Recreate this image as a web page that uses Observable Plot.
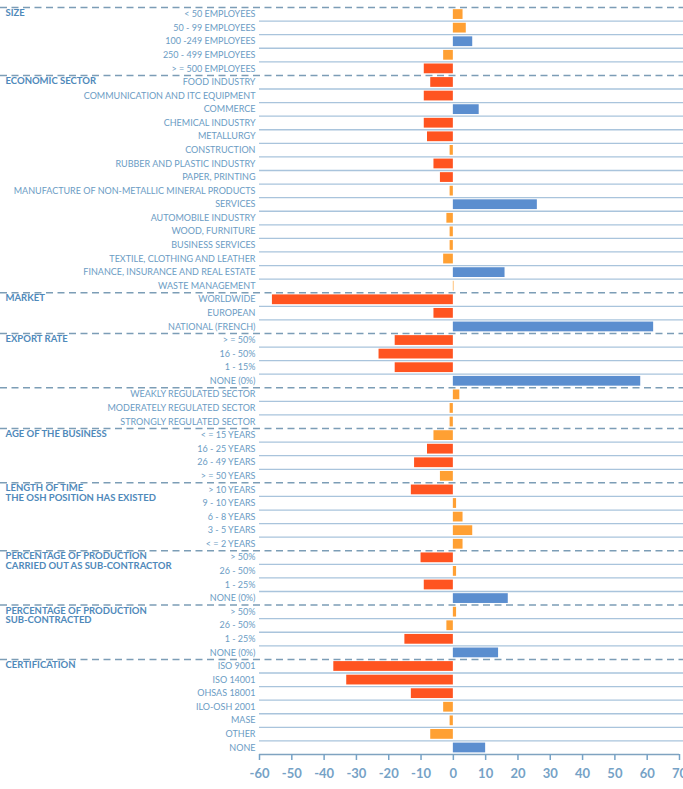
<!DOCTYPE html>
<html>
<head>
<meta charset="utf-8">
<script src="https://cdn.jsdelivr.net/npm/d3@7"></script>
<script src="https://cdn.jsdelivr.net/npm/@observablehq/plot@0.6"></script>
<style>
  html, body { margin: 0; padding: 0; background: #fff; }
  svg { display: block; }
</style>
</head>
<body>
<div id="chart"></div>
<script>
// ---- data ----
const groupNames = [
  "SIZE",
  "ECONOMIC SECTOR",
  "MARKET",
  "EXPORT RATE",
  "",
  "AGE OF THE BUSINESS",
  "LENGTH OF TIME\nTHE OSH POSITION HAS EXISTED",
  "PERCENTAGE OF PRODUCTION\nCARRIED OUT AS SUB-CONTRACTOR",
  "PERCENTAGE OF PRODUCTION\nSUB-CONTRACTED",
  "CERTIFICATION"
];
const groupCounts = [5, 16, 3, 4, 3, 4, 5, 4, 4, 7];

const labels = [
  "< 50 EMPLOYEES", "50 - 99 EMPLOYEES", "100 -249 EMPLOYEES", "250 - 499 EMPLOYEES", "> = 500 EMPLOYEES",
  "FOOD INDUSTRY", "COMMUNICATION AND ITC EQUIPMENT", "COMMERCE", "CHEMICAL INDUSTRY", "METALLURGY",
  "CONSTRUCTION", "RUBBER AND PLASTIC INDUSTRY", "PAPER, PRINTING", "MANUFACTURE OF NON-METALLIC MINERAL PRODUCTS",
  "SERVICES", "AUTOMOBILE INDUSTRY", "WOOD, FURNITURE", "BUSINESS SERVICES", "TEXTILE, CLOTHING AND LEATHER",
  "FINANCE, INSURANCE AND REAL ESTATE", "WASTE MANAGEMENT",
  "WORLDWIDE", "EUROPEAN", "NATIONAL (FRENCH)",
  "> = 50%", "16 - 50%", "1 - 15%", "NONE (0%)",
  "WEAKLY REGULATED SECTOR", "MODERATELY REGULATED SECTOR", "STRONGLY REGULATED SECTOR",
  "< = 15 YEARS", "16 - 25 YEARS", "26 - 49 YEARS", "> = 50 YEARS",
  "> 10 YEARS", "9 - 10 YEARS", "6 - 8 YEARS", "3 - 5 YEARS", "< = 2 YEARS",
  "> 50%", "26 - 50%", "1 - 25%", "NONE (0%)",
  "> 50%", "26 - 50%", "1 - 25%", "NONE (0%)",
  "ISO 9001", "ISO 14001", "OHSAS 18001", "ILO-OSH 2001", "MASE", "OTHER", "NONE"
];

const values = [
  3, 4, 6, -3, -9,
  -7, -9, 8, -9, -8, -1, -6, -4, -1, 26, -2, -1, -1, -3, 16, 0.2,
  -56, -6, 62,
  -18, -23, -18, 58,
  2, -1, -1,
  -6, -8, -12, -4,
  -13, 1, 3, 6, 3,
  -10, 1, -9, 17,
  1, -2, -15, 14,
  -37, -33, -13, -3, -1, -7, 10
];

// n = significant negative, s = small / not significant, p = significant positive
const tones = [
  "s", "s", "p", "s", "n",
  "n", "n", "p", "n", "n", "s", "n", "n", "s", "p", "s", "s", "s", "s", "p", "s",
  "n", "n", "p",
  "n", "n", "n", "p",
  "s", "s", "s",
  "s", "n", "n", "s",
  "n", "s", "s", "s", "s",
  "n", "s", "n", "p",
  "s", "s", "n", "p",
  "n", "n", "n", "s", "s", "s", "p"
];

const xTicks = [-60, -50, -40, -30, -20, -10, 0, 10, 20, 30, 40, 50, 60, 70];

// ---- derived tables ----
const rows = labels.map((label, i) => ({i, label, value: values[i], tone: tones[i]}));
const groups = [];
{
  let s = 0;
  groupNames.forEach((name, k) => { groups.push({name, start: s}); s += groupCounts[k]; });
}
const nRows = labels.length;
const starts = new Set(groups.map(g => g.start));
const rowLines = rows.filter(r => !starts.has(r.i + 1) && r.i + 1 < nRows);

const txt = "#6b9cc4";
const bold = "#4f89ba";
const lineCol = "#a9c4dc";
const dashCol = "#7c9db6";

const chart = Plot.plot({
  width: 683,
  height: 789,
  marginLeft: 0,
  marginRight: 0,
  marginTop: 7,
  marginBottom: 35,
  style: {fontFamily: "Lato, 'Open Sans', sans-serif", background: "#fff"},
  x: {domain: [-60, 70], range: [259, 679], axis: null, label: null},
  y: {domain: [0, nRows], range: [7, 754], axis: null},
  color: {domain: ["n", "s", "p"], range: ["#ff5420", "#ffa033", "#5b8ecf"]},
  marks: [
    Plot.ruleY(rowLines, {y: d => d.i + 1, x1: -60, x2: 70, insetRight: -4, stroke: lineCol, strokeWidth: 1.3}),
    Plot.ruleY(groups, {y: "start", stroke: dashCol, strokeWidth: 1.5, strokeDasharray: "7,4.5"}),
    Plot.rectX(rows, {x1: 0, x2: "value", y1: d => d.i + 0.16, y2: d => d.i + 0.88, fill: "tone"}),
    Plot.text(rows, {x: -60, y: d => d.i + 0.5, text: "label", textAnchor: "end", dx: -4, fontSize: 9, fill: txt}),
    Plot.text(groups, {frameAnchor: "left", y: d => d.start + 0.5, text: "name", textAnchor: "start", lineAnchor: "top",
      dx: 5, dy: -5, fontSize: 9.5, fontWeight: "bold", lineHeight: 1.0, fill: bold}),
    Plot.ruleY([nRows], {x1: -60, x2: 70, stroke: "#7fa3c0", strokeWidth: 1.5}),
    Plot.axisX({ticks: xTicks, anchor: "bottom", label: null, tickSize: 6, tickPadding: 8, fontSize: 13,
      color: "#76a2c6", strokeWidth: 1.5, tickFormat: d => String(d)})
  ]
});
d3.select(chart).selectAll('g[aria-label="x-axis tick label"], g[aria-label="x-axis tick label"] text')
  .attr("font-weight", "bold").style("font-weight", "bold");
document.getElementById("chart").appendChild(chart);
</script>
</body>
</html>
